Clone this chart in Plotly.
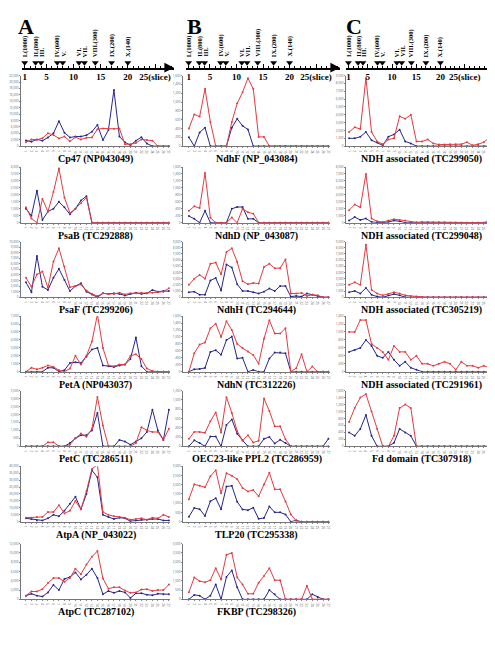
import plotly.graph_objects as go

W, H = 495, 648
slices = list(range(1, 28))

# ---- top fraction axis ----
frac_slices = [1, 3, 4, 7, 8, 11, 12, 14, 17, 20]
frac_labels = ["I.(1000)", "II.(800)", "III.", "IV.(600)", "V.", "VI.", "VII.",
               "VIII.(300)", "IX.(200)", "X.(140)"]
slice_ticks = [1, 5, 10, 15, 20, 25]
slice_ticktext = ["1", "5", "10", "15", "20", "25(slice)"]

# ---- Column A ----
cp47_blue = [1800, 1400, 2100, 1700, 2700, 4000, 7800, 4200, 2700, 3000, 3000, 3400, 4500, 6600,
             1900, 5000, 17500, 3000, 1200, 300, 1700, 2800, 800, 0, 0, 0, 0]
cp47_red = [1200, 2100, 2000, 2500, 4000, 3500, 2400, 3000, 1500, 2800, 2100, 2600, 2700, 5300,
            5500, 5400, 5400, 5500, 600, 600, 1000, 2100, 1900, 1700, 0, 0, 0]
psab_blue = [1000, 500, 2300, 200, 800, 1000, 1500, 1100, 600, 1000, 1600, 1900, 0, 0,
             0, 0, 0, 0, 0, 0, 0, 0, 0, 0, 0, 0, 0]
psab_red = [1100, 300, 0, 1700, 800, 2200, 3900, 1800, 700, 1000, 1400, 1800, 0, 0,
            0, 0, 0, 0, 0, 0, 0, 0, 0, 0, 0, 0, 0]
psaf_blue = [2700, 900, 7400, 1900, 1300, 3500, 5100, 3100, 1100, 2000, 2500, 1000, 500, 0,
             700, 600, 700, 600, 300, 600, 800, 600, 700, 1300, 1000, 1100, 1100]
psaf_red = [3500, 1900, 4100, 4600, 1700, 6400, 8800, 5500, 1800, 2000, 2300, 1200, 600, 200,
            700, 600, 600, 800, 500, 700, 700, 800, 700, 800, 900, 1000, 1600]
peta_blue = [0, 0, 0, 0, 500, 500, 0, 200, 1100, 1200, 1100, 1900, 2800, 3000,
             800, 700, 600, 800, 900, 1600, 4300, 700, 0, 0, 0, 0, 0]
peta_red = [0, 500, 300, 500, 800, 600, 200, 0, 400, 2000, 900, 2000, 3800, 7200,
            3000, 800, 700, 900, 900, 2000, 2200, 1600, 400, 100, 0, 0, 0]
petc_blue = [0, 0, 0, 0, 0, 0, 0, 0, 200, 500, 700, 700, 1000, 2100,
             0, 0, 0, 400, 300, 100, 300, 500, 900, 2300, 1000, 400, 2300]
petc_red = [0, 0, 0, 0, 250, 250, 0, 0, 100, 500, 800, 600, 1100, 3100,
            1300, 0, 0, 0, 0, 0, 200, 1200, 1000, 900, 900, 400, 1100]
atpa_blue = [2500, 2000, 1000, 1000, 2500, 5000, 4000, 8000, 13000, 18000, 9000, 20000, 37000, 32000,
             5000, 3500, 2000, 3000, 2500, 500, 1000, 1500, 1500, 2000, 2000, 1000, 1000]
atpa_red = [3000, 3000, 3500, 3500, 7000, 7000, 12000, 6000, 8000, 15000, 9000, 22000, 38000, 41000,
            7000, 5000, 4000, 3500, 3000, 1500, 2000, 2500, 1500, 3000, 2500, 5000, 3500]
atpc_blue = [800, 1200, 800, 600, 1500, 3100, 2000, 4400, 4800, 5800, 4300, 5300, 6600, 4600,
             1100, 1800, 1400, 1800, 1500, 300, 1300, 1300, 1000, 900, 1200, 1100, 1100]
atpc_red = [800, 1700, 1700, 2200, 3500, 4600, 4600, 3800, 4600, 6600, 5400, 7500, 9200, 10400,
            4500, 2300, 2600, 2600, 1900, 1400, 1500, 2100, 2200, 1800, 2000, 2000, 3200]

# ---- Column B ----
ndhf_blue = [200, 0, 310, 420, 0, 0, 0, 0, 420, 620, 460, 380, 0, 0,
             0, 0, 0, 0, 0, 0, 0, 0, 0, 0, 0, 0, 0]
ndhf_red = [400, 720, 670, 1300, 550, 0, 0, 0, 550, 970, 1220, 1540, 1300, 210,
            210, 0, 0, 0, 0, 0, 0, 0, 0, 0, 0, 0, 0]
ndhd_blue = [190, 110, 0, 340, 0, 0, 0, 0, 400, 450, 450, 110, 110, 0,
             0, 0, 0, 0, 0, 0, 0, 0, 0, 0, 0, 0, 0]
ndhd_red = [340, 470, 420, 1430, 140, 0, 0, 0, 150, 0, 400, 300, 260, 0,
            0, 0, 0, 0, 0, 0, 0, 0, 0, 0, 0, 0, 0]
ndhh_blue = [800, 900, 400, 400, 2700, 3100, 1100, 5300, 4800, 2100, 1000, 1000, 800, 600,
             900, 1400, 1000, 1800, 1800, 100, 200, 100, 600, 400, 200, 0, 0]
ndhh_red = [2000, 3000, 3600, 3000, 5400, 5600, 3700, 7300, 7900, 5700, 2600, 2100, 2300, 2200,
            4900, 5400, 4700, 4700, 6100, 600, 600, 700, 200, 400, 300, 0, 0]
ndhn_blue = [0, 70, 80, 110, 570, 620, 490, 910, 1010, 380, 400, 0, 50, 0,
             0, 380, 550, 550, 530, 0, 0, 0, 0, 0, 0, 0, 0]
ndhn_red = [0, 530, 780, 840, 1250, 1380, 1000, 1450, 1200, 800, 680, 580, 480, 230,
            950, 1480, 1100, 1100, 1250, 0, 100, 500, 0, 150, 0, 0, 0]
oec_blue = [0, 130, 70, 0, 210, 210, 0, 460, 580, 270, 130, 0, 0, 0,
            160, 200, 60, 140, 70, 0, 0, 0, 0, 0, 0, 0, 160]
oec_red = [160, 310, 310, 290, 540, 730, 300, 1060, 720, 330, 120, 240, 80, 120,
           1030, 760, 430, 430, 150, 0, 0, 0, 0, 0, 0, 0, 0]
tlp_blue = [270, 750, 680, 320, 1110, 1270, 680, 1900, 1940, 1080, 670, 630, 760, 160,
            210, 830, 510, 510, 400, 0, 80, 0, 0, 0, 0, 0, 0]
tlp_red = [1220, 2020, 1950, 1860, 2460, 2780, 1540, 2620, 2490, 2300, 1830, 1640, 1710, 1380,
           2010, 2650, 1750, 1750, 1100, 400, 50, 0, 0, 0, 0, 0, 0]
fkbp_blue = [0, 240, 200, 0, 200, 800, 0, 1210, 1560, 650, 0, 0, 0, 0,
             0, 500, 270, 0, 0, 0, 0, 0, 0, 270, 120, 0, 0]
fkbp_red = [380, 1180, 980, 920, 1030, 1680, 1070, 2400, 2500, 1180, 800, 300, 300, 900,
            1260, 1680, 1030, 1030, 0, 0, 0, 0, 730, 0, 0, 0, 0]

# ---- Column C ----
c1_blue = [1000, 1000, 1200, 1800, 750, 450, 100, 1200, 1500, 2100, 600, 350, 0, 0,
           0, 0, 0, 0, 0, 0, 0, 0, 0, 0, 0, 0, 350]
c1_red = [1800, 2400, 2200, 8700, 1800, 600, 250, 850, 1000, 3800, 3500, 4000, 600, 600,
          850, 350, 200, 200, 250, 250, 250, 500, 100, 250, 500, 1100, 1900]
c2_blue = [300, 800, 400, 600, 100, 0, 0, 100, 300, 200, 0, 0, 0, 0,
           0, 0, 0, 0, 0, 0, 0, 0, 0, 0, 0, 0, 0]
c2_red = [1800, 2600, 2200, 7000, 600, 200, 100, 300, 500, 400, 300, 100, 50, 100,
          100, 50, 50, 50, 0, 0, 0, 0, 0, 0, 0, 300, 0]
c3_blue = [800, 1000, 600, 1500, 400, 100, 0, 300, 500, 300, 0, 0, 0, 0,
           0, 0, 0, 0, 0, 0, 0, 0, 0, 0, 0, 0, 0]
c3_red = [2000, 2400, 2000, 8500, 1200, 600, 300, 500, 800, 600, 300, 200, 100, 0,
          0, 0, 0, 0, 0, 0, 0, 0, 0, 0, 0, 0, 800]
c4_blue = [500, 550, 600, 800, 650, 400, 350, 500, 300, 150, 250, 100, 50, 0,
           0, 0, 0, 0, 0, 0, 0, 0, 0, 0, 0, 0, 600]
c4_red = [1000, 1000, 1300, 1300, 700, 600, 500, 300, 650, 500, 500, 300, 400, 200,
          200, 150, 200, 250, 200, 50, 250, 150, 150, 100, 150, 100, 600]
c5_blue = [400, 300, 500, 900, 300, 0, 0, 0, 100, 500, 400, 300, 0, 0,
           0, 0, 0, 0, 0, 0, 0, 0, 0, 0, 0, 0, 0]
c5_red = [700, 1100, 1400, 1500, 1000, 500, 0, 0, 300, 1100, 1200, 1100, 0, 0,
          0, 0, 0, 0, 0, 0, 0, 0, 0, 0, 0, 0, 1000]

# (column, row, title, blue, red, ymax, dtick)
panels = [
    (0, 0, "Cp47 (NP043049)", cp47_blue, cp47_red, 22000, 2000),
    (0, 1, "PsaB (TC292888)", psab_blue, psab_red, 4000, 500),
    (0, 2, "PsaF (TC299206)", psaf_blue, psaf_red, 10000, 1000),
    (0, 3, "PetA (NP043037)", peta_blue, peta_red, 7000, 1000),
    (0, 4, "PetC (TC286511)", petc_blue, petc_red, 3500, 500),
    (0, 5, "AtpA (NP_043022)", atpa_blue, atpa_red, 40000, 5000),
    (0, 6, "AtpC (TC287102)", atpc_blue, atpc_red, 12000, 2000),
    (1, 0, "NdhF (NP_043084)", ndhf_blue, ndhf_red, 1600, 200),
    (1, 1, "NdhD (NP_043087)", ndhd_blue, ndhd_red, 1600, 200),
    (1, 2, "NdhH (TC294644)", ndhh_blue, ndhh_red, 9000, 1000),
    (1, 3, "NdhN (TC312226)", ndhn_blue, ndhn_red, 1600, 200),
    (1, 4, "OEC23-like PPL2 (TC286959)", oec_blue, oec_red, 1200, 200),
    (1, 5, "TLP20 (TC295338)", tlp_blue, tlp_red, 3000, 500),
    (1, 6, "FKBP (TC298326)", fkbp_blue, fkbp_red, 3000, 500),
    (2, 0, "NDH associated (TC299050)", c1_blue, c1_red, 9000, 1000),
    (2, 1, "NDH associated (TC299048)", c2_blue, c2_red, 8000, 1000),
    (2, 2, "NDH associated (TC305219)", c3_blue, c3_red, 9000, 1000),
    (2, 3, "NDH associated (TC291961)", c4_blue, c4_red, 1400, 200),
    (2, 4, "Fd domain (TC307918)", c5_blue, c5_red, 1600, 200),
]

RED = "#e03c42"
BLUE = "#26268a"
SERIF = "Liberation Serif"

col_px = [(13, 162), (175, 322), (338, 489)]
col_xrange = [(0.1, 27.2), (-0.1, 27.3), (0.45, 27.35)]
row_top = [66, 158, 233, 308, 383, 459, 537]
row_bot = [137, 214, 289, 364, 439, 515, 593]


def fx(px):
    return px / W


def fy(py):
    return 1 - py / H


fig = go.Figure()
layout = dict(width=W, height=H, margin=dict(l=0, r=0, t=0, b=0),
              paper_bgcolor="white", plot_bgcolor="white", showlegend=False)
annotations = []

for k, (c, r, title, blue, red, ymax, dt) in enumerate(panels, start=1):
    x0, x1 = col_px[c]
    t, b = row_top[r], row_bot[r]
    xa = "xaxis" if k == 1 else f"xaxis{k}"
    ya = "yaxis" if k == 1 else f"yaxis{k}"
    xr = "x" if k == 1 else f"x{k}"
    yr = "y" if k == 1 else f"y{k}"
    layout[xa] = dict(domain=[fx(x0), fx(x1)], anchor=yr, range=list(col_xrange[c]),
                      tickmode="array", tickvals=slices, ticktext=[str(s) for s in slices],
                      tickfont=dict(size=3, color="#666"), ticks="outside", ticklen=1,
                      tickcolor="#888", showline=True, linecolor="#777", linewidth=0.8,
                      showgrid=False, zeroline=False, fixedrange=True)
    layout[ya] = dict(domain=[fy(b), fy(t)], anchor=xr, range=[0, ymax], dtick=dt,
                      tickformat=",", tickfont=dict(size=3, color="#666"),
                      ticks="outside", ticklen=1, tickcolor="#888",
                      showline=True, linecolor="#777", linewidth=0.8,
                      showgrid=False, zeroline=False, fixedrange=True)
    fig.add_trace(go.Scatter(x=slices, y=blue, xaxis=xr, yaxis=yr, mode="lines+markers",
                             line=dict(color=BLUE, width=1), marker=dict(size=2, color=BLUE)))
    fig.add_trace(go.Scatter(x=slices, y=red, xaxis=xr, yaxis=yr, mode="lines+markers",
                             line=dict(color=RED, width=1), marker=dict(size=2, color=RED)))
    annotations.append(dict(text=title, xref=f"{xr} domain", yref=f"{yr} domain", x=0.5, y=0,
                            yanchor="top", yshift=-5, showarrow=False,
                            font=dict(family=SERIF, size=10, color="black", weight="bold")))

# ---- top slice axes ----
top_px = [(14, 166, 0.5, 28.5), (178, 332, 0.5, 29.5), (338, 493, 0.5, 32.5)]
letters = ["A", "B", "C"]
letter_x = [8, 177, 336]
n = len(panels)
for i, (x0, x1, r0, r1) in enumerate(top_px):
    k = n + 1 + i
    xr, yr = f"x{k}", f"y{k}"
    layout[f"xaxis{k}"] = dict(domain=[fx(x0), fx(x1)], anchor=yr, range=[r0, r1],
                               tickmode="array", tickvals=slice_ticks, ticktext=slice_ticktext,
                               tickfont=dict(family=SERIF, size=9, color="black", weight="bold"),
                               ticks="inside", ticklen=4, tickwidth=1, tickcolor="black",
                               minor=dict(ticks="inside", dtick=1, tick0=1, ticklen=2,
                                          tickcolor="black", tickwidth=1),
                               showline=True, linecolor="black", linewidth=1.6,
                               showgrid=False, zeroline=False, fixedrange=True)
    layout[f"yaxis{k}"] = dict(domain=[fy(58), fy(44)], anchor=xr, range=[0, 1],
                               visible=False, fixedrange=True)
    fig.add_trace(go.Scatter(x=frac_slices, y=[0.35] * len(frac_slices), xaxis=xr, yaxis=yr,
                             mode="markers", cliponaxis=False,
                             marker=dict(symbol="triangle-down", size=6, color="black")))
    for s, lab in zip(frac_slices, frac_labels):
        annotations.append(dict(text=lab, xref=xr, yref=yr, x=s, y=0.62, yanchor="bottom",
                                xanchor="center", textangle=-90, showarrow=False,
                                font=dict(family=SERIF, size=6.5, color="black", weight="bold")))
    annotations.append(dict(text="", xref=f"{xr} domain", yref=f"{yr} domain", x=1.0, y=0,
                            ax=-8, ay=0, axref="pixel", ayref="pixel", showarrow=True,
                            arrowhead=2, arrowsize=1.2, arrowwidth=1.6, arrowcolor="black"))
    annotations.append(dict(text=letters[i], xref="paper", yref="paper", x=fx(letter_x[i]),
                            y=fy(2), xanchor="left", yanchor="top", showarrow=False,
                            font=dict(family=SERIF, size=22, color="black", weight="bold")))

layout["annotations"] = annotations
fig.update_layout(**layout)
fig.write_html("out.html")
